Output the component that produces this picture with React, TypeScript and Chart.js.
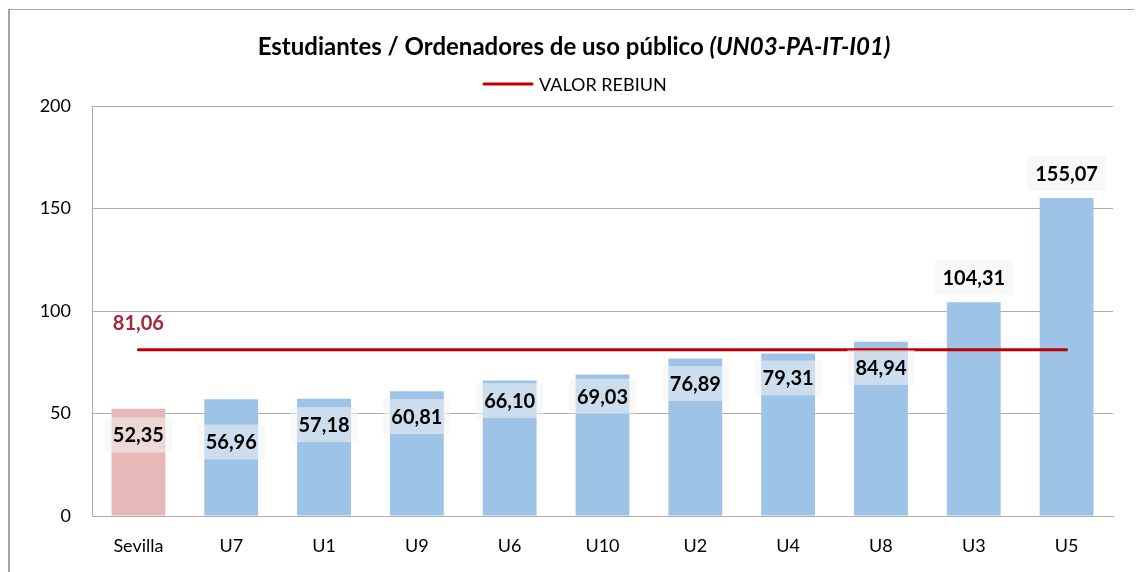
import React, { useEffect, useRef } from "react";
import { Chart, registerables } from "chart.js";

Chart.register(...registerables);

const categories = ["Sevilla", "U7", "U1", "U9", "U6", "U10", "U2", "U4", "U8", "U3", "U5"];
const values = [52.35, 56.96, 57.18, 60.81, 66.1, 69.03, 76.89, 79.31, 84.94, 104.31, 155.07];
const rebiunValue = 81.06;
const rebiunSeries = categories.map(() => rebiunValue);
// label anchor heights (in axis units), as placed in the original
const labelAnchors = [39.5, 36.1, 44.6, 48.5, 56.3, 58.5, 64.6, 67.3, 72.4, 116.3, 167.1];
const rebiunLabelAnchor = 93.7;
const yMin = 0;
const yMax = 200;
const yStep = 50;

const titleMain = "Estudiantes / Ordenadores de uso público ";
const titleCode = "(UN03-PA-IT-I01)";
const legendText = "VALOR REBIUN";

const FONT = "Lato, 'Noto Sans', sans-serif";
const fmt = (v: number) => v.toFixed(2).replace(".", ",");

const decorPlugin = {
  id: "decor",
  afterDatasetsDraw(chart: any) {
    const ctx = chart.ctx;
    const yScale = chart.scales.y;
    const barMeta = chart.getDatasetMeta(0);
    ctx.save();
    ctx.font = `bold 20px ${FONT}`;
    ctx.textAlign = "center";
    ctx.textBaseline = "middle";
    barMeta.data.forEach((el: any, i: number) => {
      const txt = fmt(values[i]);
      const y = yScale.getPixelForValue(labelAnchors[i]);
      const w = ctx.measureText(txt).width + 16;
      const h = 35;
      ctx.fillStyle = "rgba(243,243,243,0.55)";
      ctx.fillRect(el.x - w / 2, y - h / 2, w, h);
      ctx.fillStyle = "#000";
      ctx.fillText(txt, el.x, y + 1);
    });
    const lineMeta = chart.getDatasetMeta(1);
    const p0 = lineMeta.data[0];
    ctx.fillStyle = "#A4273A";
    ctx.fillText(fmt(rebiunValue), p0.x, yScale.getPixelForValue(rebiunLabelAnchor));
    ctx.restore();
  },
  afterDraw(chart: any) {
    const ctx = chart.ctx;
    const W = chart.width;
    ctx.save();
    ctx.textBaseline = "middle";
    ctx.textAlign = "left";
    ctx.font = `bold 24px ${FONT}`;
    const w1 = ctx.measureText(titleMain).width;
    ctx.font = `italic bold 24px ${FONT}`;
    const w2 = ctx.measureText(titleCode).width;
    const x = W / 2 - (w1 + w2) / 2;
    const ty = 37;
    ctx.fillStyle = "#000";
    ctx.font = `bold 24px ${FONT}`;
    ctx.fillText(titleMain, x, ty);
    ctx.font = `italic bold 24px ${FONT}`;
    ctx.fillText(titleCode, x + w1, ty);
    const ly = 74;
    ctx.strokeStyle = "#C00000";
    ctx.lineWidth = 3;
    ctx.lineCap = "round";
    ctx.beginPath();
    ctx.moveTo(476, ly);
    ctx.lineTo(524, ly);
    ctx.stroke();
    ctx.font = `18px ${FONT}`;
    ctx.fillStyle = "#000";
    ctx.fillText(legendText, 531, ly + 1);
    ctx.restore();
  },
};

export default function App() {
  const ref = useRef<HTMLCanvasElement | null>(null);
  useEffect(() => {
    if (!ref.current) return;
    const chart = new Chart(ref.current, {
      type: "bar",
      data: {
        labels: categories,
        datasets: [
          {
            type: "bar",
            label: "Universidades",
            data: values,
            backgroundColor: categories.map((_, i) => (i === 0 ? "#E6B9B8" : "#9DC3E6")),
            barPercentage: 0.58,
            categoryPercentage: 1,
            order: 2,
          },
          {
            type: "line",
            label: legendText,
            data: rebiunSeries,
            borderColor: "#C00000",
            backgroundColor: "#C00000",
            borderWidth: 3,
            borderCapStyle: "round",
            pointRadius: 0,
            pointHoverRadius: 0,
            fill: false,
            order: 1,
          } as any,
        ],
      },
      options: {
        responsive: false,
        animation: false,
        layout: { padding: { top: 96, right: 27, left: 0, bottom: 0 } },
        plugins: {
          legend: { display: false },
          title: { display: false },
          tooltip: { enabled: false },
        },
        scales: {
          x: {
            grid: { display: false, drawTicks: false },
            border: { display: true, color: "#ADADAD", width: 1 },
            ticks: { color: "#000", font: { family: FONT, size: 18 }, padding: 19, maxRotation: 0 },
            afterFit: (s: any) => {
              s.height = 92;
            },
          },
          y: {
            min: yMin,
            max: yMax,
            grid: { color: "#ADADAD", drawTicks: false },
            border: { display: true, color: "#ADADAD", width: 1 },
            ticks: { stepSize: yStep, color: "#000", font: { family: FONT, size: 18 }, padding: 21 },
            afterFit: (s: any) => {
              s.width = 84;
            },
          },
        },
      },
      plugins: [decorPlugin],
    });
    return () => chart.destroy();
  }, []);
  return (
    <div style={{ position: "relative", width: 1134, height: 600 }}>
      <div
        style={{
          position: "absolute",
          left: 0,
          top: 1,
          width: 1134,
          height: 600,
          borderTop: "1px solid #A6A6A6",
          borderLeft: "2px solid #A6A6A6",
          borderRight: "1px solid #A6A6A6",
          borderBottom: "1px solid #A6A6A6",
          boxSizing: "border-box",
          pointerEvents: "none",
        }}
      />
      <canvas
        ref={ref}
        width={1132}
        height={598}
        style={{ position: "absolute", left: 0, top: 2, display: "block" }}
      />
    </div>
  );
}
